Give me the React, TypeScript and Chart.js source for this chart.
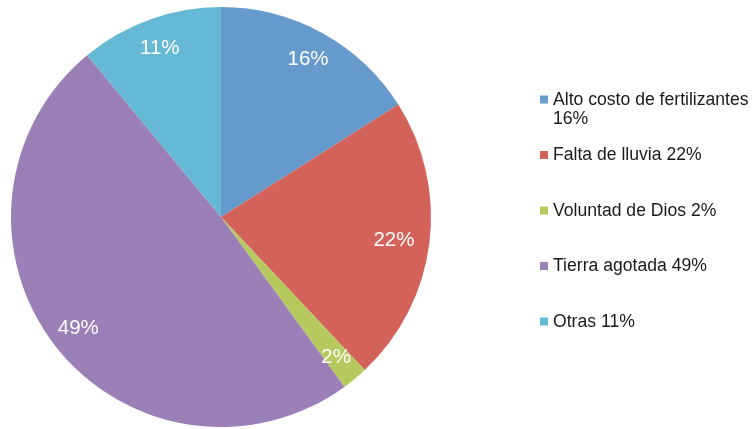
import React, { useEffect, useRef } from "react";
import { Chart, registerables } from "chart.js";

Chart.register(...registerables);

const categories = [
  "Alto costo de fertilizantes",
  "Falta de lluvia",
  "Voluntad de Dios",
  "Tierra agotada",
  "Otras",
];
const values = [16, 22, 2, 49, 11];
const colors = ["#6699CC", "#D3635A", "#B6C95E", "#9B7FB7", "#65B9D5"];

const FONT = "'Liberation Sans', Arial, Helvetica, sans-serif";

const sliceLabels = {
  id: "sliceLabels",
  afterDatasetsDraw(chart: any) {
    const ctx = chart.ctx;
    const meta = chart.getDatasetMeta(0);
    const total = values.reduce((a, b) => a + b, 0);
    ctx.save();
    ctx.font = `20.5px ${FONT}`;
    ctx.fillStyle = "#ffffff";
    ctx.textAlign = "center";
    ctx.textBaseline = "middle";
    meta.data.forEach((arc: any, i: number) => {
      const mid = (arc.startAngle + arc.endAngle) / 2;
      const share = values[i] / total;
      const r = arc.outerRadius * (share > 0.2 && share < 0.3 ? 0.83 : 0.86);
      const x = arc.x + Math.cos(mid) * r;
      const y = arc.y + Math.sin(mid) * r;
      ctx.fillText(`${Math.round(share * 100)}%`, x, y + 1);
    });
    ctx.restore();
  },
};

const sideLegend = {
  id: "sideLegend",
  afterDraw(chart: any) {
    const ctx = chart.ctx;
    const boxX = 540;
    const textX = 553;
    const maxW = chart.width - textX + 2;
    const startY = 100;
    const step = 55.5;
    const lineH = 19;
    ctx.save();
    ctx.font = `17.6px ${FONT}`;
    ctx.textBaseline = "middle";
    ctx.textAlign = "left";
    categories.forEach((cat, i) => {
      const y = startY + step * i;
      ctx.fillStyle = colors[i];
      ctx.fillRect(boxX, y - 4.5, 8, 8);
      const text = `${cat} ${values[i]}%`;
      const words = text.split(" ");
      const lines: string[] = [];
      let cur = "";
      words.forEach((w) => {
        const t = cur ? cur + " " + w : w;
        if (ctx.measureText(t).width > maxW && cur) {
          lines.push(cur);
          cur = w;
        } else cur = t;
      });
      if (cur) lines.push(cur);
      ctx.fillStyle = "#1a1a1a";
      lines.forEach((ln, j) => ctx.fillText(ln, textX, y + j * lineH));
    });
    ctx.restore();
  },
};

export default function App() {
  const ref = useRef<HTMLCanvasElement>(null);
  useEffect(() => {
    if (!ref.current) return;
    const chart = new Chart(ref.current, {
      type: "pie",
      data: {
        labels: categories,
        datasets: [
          {
            data: values,
            backgroundColor: colors,
            borderWidth: 0,
          },
        ],
      },
      options: {
        responsive: false,
        animation: false,
        devicePixelRatio: 1,
        layout: { padding: { left: 11, right: 322, top: 7, bottom: 2 } },
        plugins: {
          legend: { display: false },
          tooltip: { enabled: false },
        },
      },
      plugins: [sliceLabels, sideLegend],
    });
    return () => chart.destroy();
  }, []);
  return (
    <div style={{ position: "absolute", left: 0, top: 0, width: 753, height: 429, background: "#fff" }}>
      <canvas ref={ref} width={753} height={429} />
    </div>
  );
}
